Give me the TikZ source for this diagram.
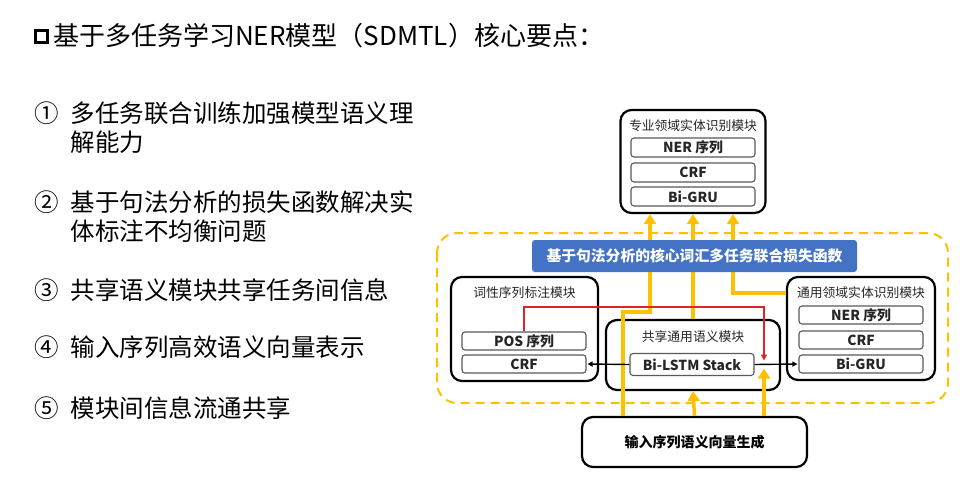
\documentclass[tikz,border=0pt]{standalone}
\usepackage{fontspec}
\setmainfont{Noto Sans CJK SC}
\usetikzlibrary{arrows.meta}
\definecolor{gold}{RGB}{255,192,0}
\definecolor{lossblue}{RGB}{68,114,196}
\definecolor{posred}{RGB}{222,36,36}
\begin{document}
\begin{tikzpicture}[x=1pt,y=-1pt,
  module/.style={draw=black,line width=2.2pt,rounded corners=11pt,inner sep=0pt},
  cell/.style={draw=black!65,line width=1.1pt,rounded corners=3pt,minimum width=124pt,
    minimum height=19pt,inner sep=0pt,text=black!85,font=\fontsize{13.8}{14}\selectfont\bfseries},
  modtitle/.style={inner sep=0pt,text=black!85,font=\fontsize{12.8}{13}\selectfont},
  flow/.style={gold,line width=3.5pt,-{Triangle[length=10pt,width=12pt]}},
  link/.style={black,line width=1.4pt,-{Triangle[length=5pt,width=5pt]},shorten >=1pt},
  item/.style={inner sep=0pt,anchor=base west,font=\fontsize{24.5}{29}\selectfont}]
\fill[white] (0,0) rectangle (969,490);
\useasboundingbox (0,0) rectangle (969,490);

% heading and key points
\node[draw,line width=3pt,minimum size=12pt,inner sep=0pt] (bullet) at (41,36) {};
\node[inner sep=0pt,anchor=base west,font=\fontsize{26}{30}\selectfont] (head) at (53,45)
  {基于多任务学习NER模型（SDMTL）核心要点：};
\node[item] (pt1) at (34,122) {\begin{tabular}[t]{@{}l@{\hspace{12pt}}l@{}}①&多任务联合训练加强模型语义理\\&解能力\end{tabular}};
\node[item] (pt2) at (34,211) {\begin{tabular}[t]{@{}l@{\hspace{12pt}}l@{}}②&基于句法分析的损失函数解决实\\&体标注不均衡问题\end{tabular}};
\node[item] (pt3) at (34,299) {\begin{tabular}[t]{@{}l@{\hspace{12pt}}l@{}}③&共享语义模块共享任务间信息\end{tabular}};
\node[item] (pt4) at (34,356) {\begin{tabular}[t]{@{}l@{\hspace{12pt}}l@{}}④&输入序列高效语义向量表示\end{tabular}};
\node[item] (pt5) at (34,417) {\begin{tabular}[t]{@{}l@{\hspace{12pt}}l@{}}⑤&模块间信息流通共享\end{tabular}};

% SDMTL model
\draw[gold,line width=2pt,dash pattern=on 9pt off 6pt,rounded corners=20pt] (437,233) rectangle (948,403);

\node[module,minimum width=145pt,minimum height=103pt] (spec) at (693,161.5) {};
\node[modtitle] (spect) at (693,126) {专业领域实体识别模块};
\node[cell] (specner) at (693,147.5) {NER 序列};
\node[cell] (speccrf) at (693,172.5) {CRF};
\node[cell] (specgru) at (693,196.5) {Bi-GRU};

\node[module,minimum width=147pt,minimum height=104pt] (pos) at (524.5,329) {};
\node[modtitle] (post) at (524.5,293) {词性序列标注模块};
\node[cell,minimum height=18pt] (posseq) at (524,341) {POS 序列};
\node[cell,minimum height=18pt] (poscrf) at (524,364) {CRF};

\node[module,minimum width=174pt,minimum height=70pt] (share) at (693,355) {};
\node[modtitle] (sharet) at (693,337) {共享通用语义模块};
\node[cell,minimum height=22pt] (lstm) at (692,364.5) {Bi-LSTM Stack};

\node[module,minimum width=148pt,minimum height=103pt] (gen) at (861,328.5) {};
\node[modtitle] (gent) at (861,293) {通用领域实体识别模块};
\node[cell,minimum height=18pt] (genner) at (861,315) {NER 序列};
\node[cell,minimum height=18pt] (gencrf) at (861,340) {CRF};
\node[cell,minimum height=18pt] (gengru) at (861,364) {Bi-GRU};

\node[module,minimum width=225pt,minimum height=50pt,font=\fontsize{14}{15}\selectfont\bfseries]
  (input) at (694.5,442) {输入序列语义向量生成};
\coordinate (meet) at (764,364.5);

% information flow
\draw[flow] (input.north -| 623,0) |- (650,312) -- (spec.south -| 650,0);
\draw[flow] (share.north) -- (share.north |- spec.south);
\draw[flow] (gen.west |- 0,293) -| (spec.south -| 733,0);
\draw[flow] (input.north) -- (share.south);
\draw[flow,shorten >=4pt] (input.north -| meet) -- (meet);

\node[fill=lossblue,rounded corners=3pt,minimum width=325pt,minimum height=32pt,inner sep=0pt,
  text=white,font=\fontsize{14.8}{15}\selectfont\bfseries] (loss) at (694.5,256)
  {基于句法分析的核心词汇多任务联合损失函数};

\draw[posred,line width=1.3pt,-{Triangle[length=6pt,width=6pt]},shorten >=4pt]
  (posseq.north) |- (meet |- 0,307) -- (meet);
\draw[link] (lstm.west) -- (poscrf.east);
\draw[link] (lstm.east) -- (gengru.west);
\end{tikzpicture}
\end{document}
